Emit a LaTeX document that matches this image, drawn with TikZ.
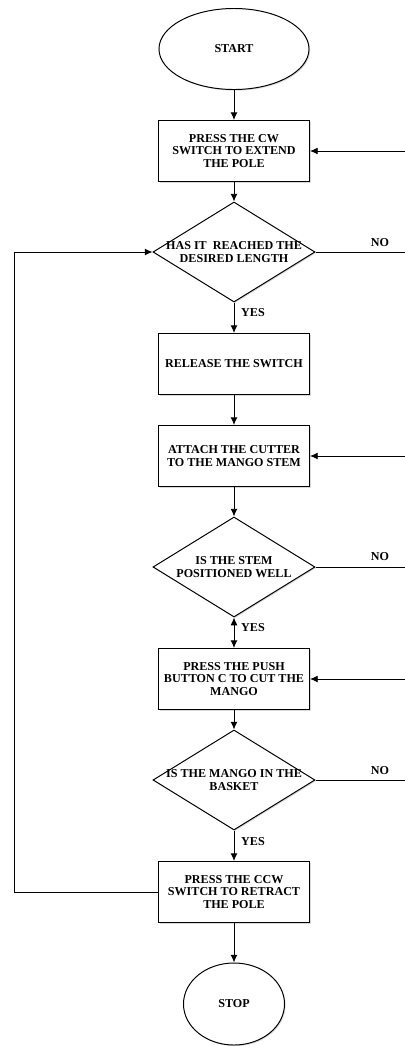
\documentclass[tikz,border=0pt]{standalone}
\usepackage{fontspec}
\setmainfont{Liberation Serif}
\usetikzlibrary{shapes.geometric}
\usetikzlibrary{positioning}
\usetikzlibrary{shadows}
\usetikzlibrary{arrows.meta}

\begin{document}
\begin{tikzpicture}[x=0.025cm,y=-0.025cm,
            font=\bfseries\fontsize{8.6}{9.2}\selectfont,
            line width=0.7pt, >={Latex[length=5.5pt,width=5pt]},
            shade/.style={drop shadow={shadow xshift=0.8pt,shadow yshift=-0.8pt,opacity=0.3}},
            proc/.style={draw, fill=white, shade, minimum width=3.775cm, minimum height=1.525cm, align=center, inner sep=1pt},
            term/.style={draw, ellipse, fill=white, shade, inner sep=0pt},
            dec/.style={draw, diamond, fill=white, shade, minimum width=4.05cm, minimum height=2.5cm, inner sep=0pt},
            dtext/.style={align=center, inner sep=0pt},
            lbl/.style={inner sep=0pt}]
    \useasboundingbox (0,0) rectangle (405,1046);
    \node[term, minimum width=3.75cm, minimum height=2.025cm] (start) at (234,49) {START};
    \node[proc] (extend) at (234,151) {PRESS THE CW\\SWITCH TO EXTEND\\THE POLE};
    \node[dec] (reached) at (234,252) {};
    \node[dtext] (reachedq) at (reached) {HAS IT~ REACHED THE\\DESIRED LENGTH};
    \node[proc] (release) at (234,364) {RELEASE THE SWITCH};
    \node[proc] (attach) at (234,456) {ATTACH THE CUTTER\\TO THE MANGO STEM};
    \node[dec] (stem) at (234,567) {};
    \node[dtext] (stemq) at (stem) {IS THE STEM\\POSITIONED WELL};
    \node[proc] (push) at (234,679) {PRESS THE PUSH\\BUTTON C TO CUT THE\\MANGO};
    \node[dec] (basket) at (234,780) {};
    \node[dtext] (basketq) at (basket) {IS THE MANGO IN THE\\BASKET};
    \node[proc] (retract) at (234,892) {PRESS THE CCW\\SWITCH TO RETRACT\\THE POLE};
    \node[term, minimum width=2.525cm, minimum height=2.05cm] (stop) at (234,1004) {STOP};

    \coordinate (extendin) at (405,151);
    \coordinate (reachedout) at (405,252);
    \coordinate (attachin) at (405,456);
    \coordinate (stemout) at (405,567);
    \coordinate (pushin) at (405,679);
    \coordinate (basketout) at (405,780);
    \coordinate (loop) at (14,892);

    \draw[->] (start) -- (extend);
    \draw[->] (extend) -- (reached);
    \draw[->] (reached) -- (release);
    \draw[->] (release) -- (attach);
    \draw[->] (attach) -- (stem);
    \draw[<->] (stem) -- (push);
    \draw[->] (push) -- (basket);
    \draw[->] (basket) -- (retract);
    \draw[->] (retract) -- (stop);

    \draw (reached.east) -- (reachedout);
    \draw (stem.east) -- (stemout);
    \draw (basket.east) -- (basketout);
    \draw[->] (extendin) -- (extend.east);
    \draw[->] (attachin) -- (attach.east);
    \draw[->] (pushin) -- (push.east);
    \draw[->] (retract.west) -- (loop) |- (reached.west);

    \node[lbl] (no1) at (380,243) {NO};
    \node[lbl] (no2) at (380,557) {NO};
    \node[lbl] (no3) at (380,771) {NO};
    \node[lbl] (yes1) at (253,313) {YES};
    \node[lbl] (yes2) at (253,628) {YES};
    \node[lbl] (yes3) at (253,842) {YES};
\end{tikzpicture}
\end{document}
